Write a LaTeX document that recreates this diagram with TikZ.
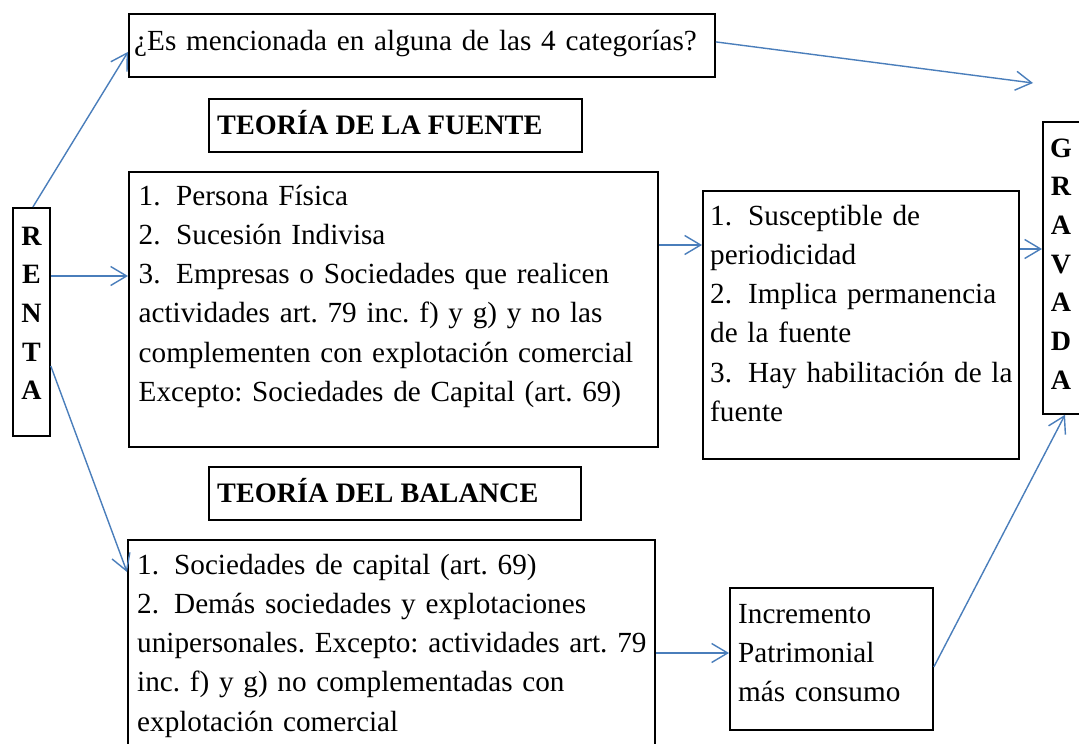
\documentclass[tikz,border=0pt]{standalone}
\usepackage{fontspec}
\setmainfont{Liberation Serif}
\usetikzlibrary{arrows.meta}
\definecolor{arrowblue}{RGB}{74,126,187}
\frenchspacing
\hyphenpenalty=10000
\begin{document}
\begin{tikzpicture}[x=1pt,y=-1pt,
  box/.style={draw=black,line width=1.8pt,inner sep=0pt,anchor=north west},
  txt/.style={anchor=base west,inner sep=0pt,text width=900pt,align=left,font=\fontsize{29.2}{39.3}\selectfont},
  head/.style={anchor=base west,inner sep=0pt,font=\bfseries\fontsize{28.2}{34}\selectfont},
  letters/.style={anchor=base,inner sep=0pt,text width=30pt,align=center,font=\bfseries\fontsize{28}{38.7}\selectfont},
  arr/.style={draw=arrowblue,line width=1.4pt,-{Straight Barb[length=16pt,width=19pt,line width=1.4pt]}}
]
\useasboundingbox (0,0) rectangle (1079,744);
\fill[white] (0,0) rectangle (1079,744);

% boxes
\node[box,minimum width=37pt,minimum height=228pt] (renta) at (12,207) {};
\node[box,minimum width=586pt,minimum height=63pt] (q) at (128,13) {};
\node[box,minimum width=373pt,minimum height=53pt] (hf) at (208,98) {};
\node[box,minimum width=529pt,minimum height=275pt] (fuente) at (128,171) {};
\node[box,minimum width=316pt,minimum height=268pt] (f2) at (702,190) {};
\node[box,minimum width=48pt,minimum height=292pt] (grav) at (1042,121) {};
\node[box,minimum width=372pt,minimum height=53pt] (hb) at (208,466) {};
\node[box,minimum width=527pt,minimum height=230pt] (bal) at (127,539) {};
\node[box,minimum width=203pt,minimum height=142pt] (inc) at (729,587) {};

% texts
\node[letters] (rentatext) at (31.5,245) {R\\E\\N\\T\\A};
\node[letters] (gravtext) at (1061,157) {G\\R\\A\\V\\A\\D\\A};
\node[txt] (qtext) at (134,50) {¿Es mencionada en alguna de las 4 categorías?};
\node[head] (hftext) at (217,134) {TEORÍA DE LA FUENTE};
\node[head] (hbtext) at (217,502) {TEORÍA DEL BALANCE};
\node[txt] (fuentetext) at (138.5,205) {\makebox[37.5pt][l]{1.}Persona Física\\
\makebox[37.5pt][l]{2.}Sucesión Indivisa\\
\makebox[37.5pt][l]{3.}Empresas o Sociedades que realicen\\
actividades art. 79 inc. f) y g) y no las\\
complementen con explotación comercial\\
Excepto: Sociedades de Capital (art. 69)};
\node[txt] (f2text) at (710,225) {\makebox[38pt][l]{1.}Susceptible de\\
periodicidad\\
\makebox[38pt][l]{2.}Implica permanencia\\
de la fuente\\
\makebox[38pt][l]{3.}Hay habilitación de la\\
fuente};
\node[txt] (baltext) at (137,574) {\makebox[37pt][l]{1.}Sociedades de capital (art. 69)\\
\makebox[37pt][l]{2.}Demás sociedades y explotaciones\\
unipersonales. Excepto: actividades art. 79\\
inc. f) y g) no complementadas con\\
explotación comercial};
\node[txt] (inctext) at (738,623) {Incremento\\Patrimonial\\más consumo};

% connectors
\coordinate (gfree) at (1033,83);
\draw[arr] ([xshift=1.5pt]renta.north) -- ([yshift=-6.5pt]q.west);
\draw[arr] ([yshift=-69pt]renta.north east) -- ([yshift=-105pt]fuente.north west);
\draw[arr] ([yshift=-159pt]renta.north east) -- ([yshift=-33pt]bal.north west);
\draw[arr] ([yshift=3.5pt]q.east) -- (gfree);
\draw[arr] ([yshift=-74pt]fuente.north east) -- ([yshift=-55pt]f2.north west);
\draw[arr] ([yshift=-59pt]f2.north east) -- ([yshift=-128pt]grav.north west);
\draw[arr] ([yshift=-114pt]bal.north east) -- ([yshift=-66pt]inc.north west);
\draw[arr] ([yshift=-80pt]inc.north east) -- ([xshift=23pt]grav.south west);
\end{tikzpicture}
\end{document}
